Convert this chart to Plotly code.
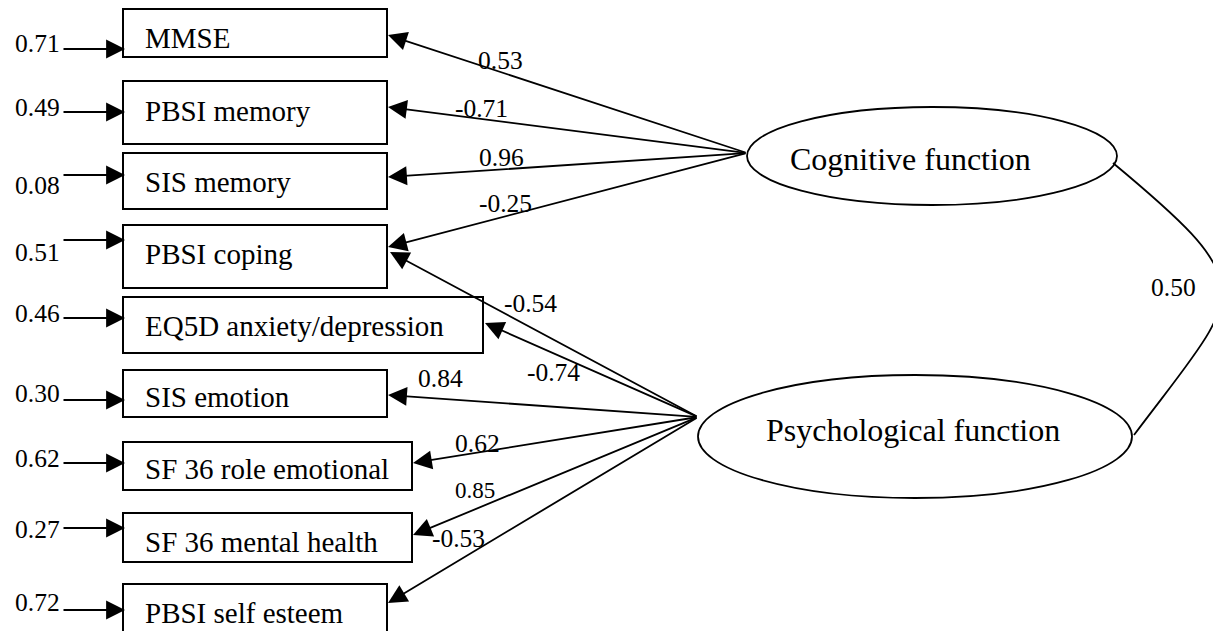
import plotly.graph_objects as go

# ---------------- data ----------------
indicators = ["MMSE", "PBSI memory", "SIS memory", "PBSI coping",
              "EQ5D anxiety/depression", "SIS emotion", "SF 36 role emotional",
              "SF 36 mental health", "PBSI self esteem"]
error_variances = [0.71, 0.49, 0.08, 0.51, 0.46, 0.30, 0.62, 0.27, 0.72]
latents = ["Cognitive function", "Psychological function"]
cognitive_indicators = ["MMSE", "PBSI memory", "SIS memory", "PBSI coping"]
cognitive_loadings = [0.53, -0.71, 0.96, -0.25]
psychological_indicators = ["PBSI coping", "EQ5D anxiety/depression", "SIS emotion",
                            "SF 36 role emotional", "SF 36 mental health", "PBSI self esteem"]
psychological_loadings = [-0.54, -0.74, 0.84, 0.62, 0.85, -0.53]
latent_correlation = 0.50

# ---------------- layout (diagram geometry, pixel space) ----------------
W, H = 1213, 631
FONT = "Liberation Serif, Times New Roman, serif"
LW = 1.8
AS = 2.1

box_left = 123
box_right = [387, 387, 387, 387, 483, 387, 412, 412, 387]
box_top = [9, 81, 153, 225, 297, 370, 442, 513, 584]
box_bottom = [57, 144, 209, 288, 353, 417, 490, 562, 645]
box_text_y = [38, 111, 182, 254, 326, 397, 469, 542, 613]
err_text_y = [43, 107, 185, 252, 313, 393, 458, 529, 602]
err_arrow_y = [49, 112, 175, 240, 318, 400, 463, 528, 610]

lat_ellipse = [dict(cx=932, cy=156, rx=185, ry=49), dict(cx=915, cy=436.5, rx=217, ry=61.5)]
lat_text_pos = [(910, 159), (913, 430)]
lat_source = [(747, 153), (698, 417)]

cog_tip_y = [35, 107, 177, 247]
cog_lab_pos = [(500, 60), (481, 108), (501, 157), (505, 203)]
psy_tip_y = [252, 323, 395, 463, 535, 603]
psy_tip_dx = [3, 2, 1, 1, 1, 1]
psy_lab_pos = [(530, 303), (553, 372), (440, 378), (477, 443), (475, 490), (458, 538)]
psy_lab_size = [25.5, 25.5, 25.5, 25.5, 23, 25.5]

corr_path = "M 1113,163 C 1267,291 1242,291 1134,435"
corr_lab_pos = (1173, 287)

fig = go.Figure()

# observed variable boxes + labels + error arrows
for i, name in enumerate(indicators):
    fig.add_shape(type="rect", xref="x", yref="y",
                  x0=box_left, x1=box_right[i], y0=box_top[i], y1=box_bottom[i],
                  line=dict(color="black", width=2), fillcolor="rgba(0,0,0,0)")
    fig.add_annotation(x=box_left + 20, y=box_text_y[i], text=name, showarrow=False,
                       xanchor="left", yanchor="middle",
                       font=dict(family=FONT, size=29, color="black"))
    fig.add_annotation(x=62, y=err_text_y[i], text=f"{error_variances[i]:.2f}",
                       showarrow=False, xanchor="right", yanchor="middle",
                       font=dict(family=FONT, size=25.5, color="black"))
    fig.add_annotation(x=box_left + 2, y=err_arrow_y[i], ax=62, ay=err_arrow_y[i],
                       xref="x", yref="y", axref="x", ayref="y", text="",
                       showarrow=True, arrowhead=2, arrowsize=AS, arrowwidth=LW,
                       arrowcolor="black", standoff=0)

# latent ellipses
for k, name in enumerate(latents):
    e = lat_ellipse[k]
    fig.add_shape(type="circle", xref="x", yref="y",
                  x0=e["cx"] - e["rx"], x1=e["cx"] + e["rx"],
                  y0=e["cy"] - e["ry"], y1=e["cy"] + e["ry"],
                  line=dict(color="black", width=LW), fillcolor="rgba(0,0,0,0)")
    fig.add_annotation(x=lat_text_pos[k][0], y=lat_text_pos[k][1], text=name,
                       showarrow=False, xanchor="center", yanchor="middle",
                       font=dict(family=FONT, size=32, color="black"))

# loadings: cognitive
for j, name in enumerate(cognitive_indicators):
    i = indicators.index(name)
    sx, sy = lat_source[0]
    fig.add_annotation(x=box_right[i] + 1, y=cog_tip_y[j], ax=sx, ay=sy,
                       xref="x", yref="y", axref="x", ayref="y", text="",
                       showarrow=True, arrowhead=2, arrowsize=AS, arrowwidth=LW,
                       arrowcolor="black", standoff=0)
    fig.add_annotation(x=cog_lab_pos[j][0], y=cog_lab_pos[j][1],
                       text=f"{cognitive_loadings[j]:.2f}", showarrow=False,
                       xanchor="center", yanchor="middle",
                       font=dict(family=FONT, size=25.5, color="black"))

# loadings: psychological
for j, name in enumerate(psychological_indicators):
    i = indicators.index(name)
    sx, sy = lat_source[1]
    fig.add_annotation(x=box_right[i] + psy_tip_dx[j], y=psy_tip_y[j], ax=sx, ay=sy,
                       xref="x", yref="y", axref="x", ayref="y", text="",
                       showarrow=True, arrowhead=2, arrowsize=AS, arrowwidth=LW,
                       arrowcolor="black", standoff=0)
    fig.add_annotation(x=psy_lab_pos[j][0], y=psy_lab_pos[j][1],
                       text=f"{psychological_loadings[j]:.2f}", showarrow=False,
                       xanchor="center", yanchor="middle",
                       font=dict(family=FONT, size=psy_lab_size[j], color="black"))

# latent correlation
fig.add_shape(type="path", xref="x", yref="y", path=corr_path,
              line=dict(color="black", width=LW))
fig.add_annotation(x=corr_lab_pos[0], y=corr_lab_pos[1], text=f"{latent_correlation:.2f}",
                   showarrow=False, xanchor="center", yanchor="middle",
                   font=dict(family=FONT, size=25.5, color="black"))

fig.update_layout(
    width=W, height=H, margin=dict(l=0, r=0, t=0, b=0),
    paper_bgcolor="white", plot_bgcolor="white", showlegend=False,
    xaxis=dict(range=[0, W], visible=False, fixedrange=True),
    yaxis=dict(range=[H, 0], visible=False, fixedrange=True),
)

fig.write_html("out.html", config={"displayModeBar": False},
               post_script="document.body.style.margin='0';document.body.style.overflow='hidden';")
